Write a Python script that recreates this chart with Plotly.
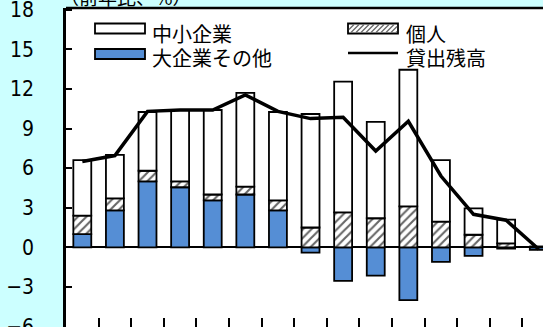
import plotly.graph_objects as go

# Fiscal years on the category axis (labels sit below the visible frame)
years = ["1980", "1981", "1982", "1983", "1984", "1985", "1986", "1987",
         "1988", "1989", "1990", "1991", "1992", "1993", "1994"]

# Contributions to year-on-year growth of loans outstanding (percentage points)
large_other = [1.0, 2.8, 5.0, 4.55, 3.55, 4.0, 2.8, -0.4, -2.55, -2.15, -4.0, -1.1, -0.65, -0.1, -0.2]
individuals = [1.4, 0.9, 0.8, 0.45, 0.45, 0.6, 0.75, 1.5, 2.65, 2.2, 3.1, 1.95, 0.95, 0.3, 0.05]
small_medium = [4.2, 3.3, 4.45, 5.4, 6.4, 7.1, 6.7, 8.6, 9.9, 7.3, 10.35, 4.65, 2.0, 1.8, 0.0]
loans_total = [6.5, 6.95, 10.3, 10.4, 10.4, 11.55, 10.3, 9.75, 9.85, 7.3, 9.55, 5.4, 2.5, 2.05, -0.15]

y_ticks = [-6, -3, 0, 3, 6, 9, 12, 15, 18]

names = {"small": "中小企業", "indiv": "個人", "large": "大企業その他", "total": "貸出残高"}

BLUE = "#558ED5"
CYAN = "#CCFFFF"
JP = "Noto Sans CJK JP"
NUM = "Liberation Sans Narrow, DejaVu Sans Condensed, sans-serif"

W, H = 543, 327
ML, MT = 66, 8
PW, PH = W - ML, H - MT

fig = go.Figure()
fig.add_bar(x=years, y=large_other, name=names["large"],
            marker=dict(color=BLUE, line=dict(color="black", width=1.8)))
fig.add_bar(x=years, y=individuals, name=names["indiv"],
            marker=dict(color="white", line=dict(color="black", width=1.8),
                        pattern=dict(shape="/", fgcolor="#666666", bgcolor="white",
                                     size=6, solidity=0.35, fillmode="replace")))
fig.add_bar(x=years, y=small_medium, name=names["small"],
            marker=dict(color="white", line=dict(color="black", width=1.8)))
fig.add_scatter(x=years, y=loans_total, name=names["total"], mode="lines",
                line=dict(color="black", width=3.5))


def px_x(x):
    return (x - ML) / PW


def px_y(y):
    return (H - y) / PH


shapes = []
# top frame line
shapes.append(dict(type="line", xref="paper", yref="paper", x0=0, x1=1, y0=1, y1=1,
                   line=dict(color="black", width=2.5)))


# legend keys
def key_rect(x0, x1, y0, y1, fill):
    shapes.append(dict(type="rect", xref="paper", yref="paper",
                       x0=px_x(x0), x1=px_x(x1), y0=px_y(y1), y1=px_y(y0),
                       fillcolor=fill, line=dict(color="black", width=1.8), layer="above"))


key_rect(95, 145, 23.5, 33.5, "white")
key_rect(95, 145, 49, 59, BLUE)
key_rect(348, 398, 23.5, 33.5, "white")
# diagonal hatching inside the 個人 key
hx0, hx1, top, bot = 349, 397, 24.5, 32.5
h = bot - top
c = hx0 - h
while c < hx1:
    t0 = max(0.0, (hx0 - c) / h)
    t1 = min(1.0, (hx1 - c) / h)
    if t1 > t0:
        shapes.append(dict(type="line", xref="paper", yref="paper",
                           x0=px_x(c + t0 * h), y0=px_y(bot - t0 * h),
                           x1=px_x(c + t1 * h), y1=px_y(bot - t1 * h),
                           line=dict(color="#666666", width=1.3), layer="above"))
    c += 5
shapes.append(dict(type="line", xref="paper", yref="paper",
                   x0=px_x(348), x1=px_x(398), y0=px_y(53), y1=px_y(53),
                   line=dict(color="black", width=2.5), layer="above"))

annotations = []
for text, x, y in [(names["small"], 150, 33), (names["large"], 150, 57.5),
                   (names["indiv"], 404, 33), (names["total"], 404, 57.5)]:
    annotations.append(dict(text=text, xref="paper", yref="paper", x=px_x(x), y=px_y(y),
                            xanchor="left", yanchor="middle", showarrow=False,
                            height=22, valign="middle",
                            font=dict(family=JP, size=20, color="black")))
annotations.append(dict(text="（前年比、%）", xref="paper", yref="paper",
                        x=px_x(58), y=px_y(-4), xanchor="left", yanchor="middle",
                        showarrow=False, font=dict(family=JP, size=19, color="black")))

fig.update_layout(
    width=W, height=H,
    margin=dict(l=ML, r=0, t=MT, b=0, pad=0),
    paper_bgcolor=CYAN, plot_bgcolor="white",
    barmode="relative", bargap=0.45,
    showlegend=False,
    shapes=shapes, annotations=annotations,
    xaxis=dict(type="category", range=[-0.5, 14.13], tickson="boundaries",
               ticks="inside", ticklen=9, tickwidth=1.5, tickcolor="black",
               showticklabels=False, showline=False, showgrid=False,
               zeroline=False, automargin=False, fixedrange=True),
    yaxis=dict(range=[-6.04, 18.13], tickvals=y_ticks, ticks="inside",
               ticklen=6, tickwidth=1.5, tickcolor="black",
               showline=True, linecolor="black", linewidth=2.5,
               showgrid=False, zeroline=True, zerolinecolor="black", zerolinewidth=2,
               tickfont=dict(family=NUM, size=21, color="black"),
               ticklabeloverflow="allow",
               ticklabelstandoff=25, automargin=False, fixedrange=True),
)

fig.write_html("out.html", config={"displayModeBar": False})
